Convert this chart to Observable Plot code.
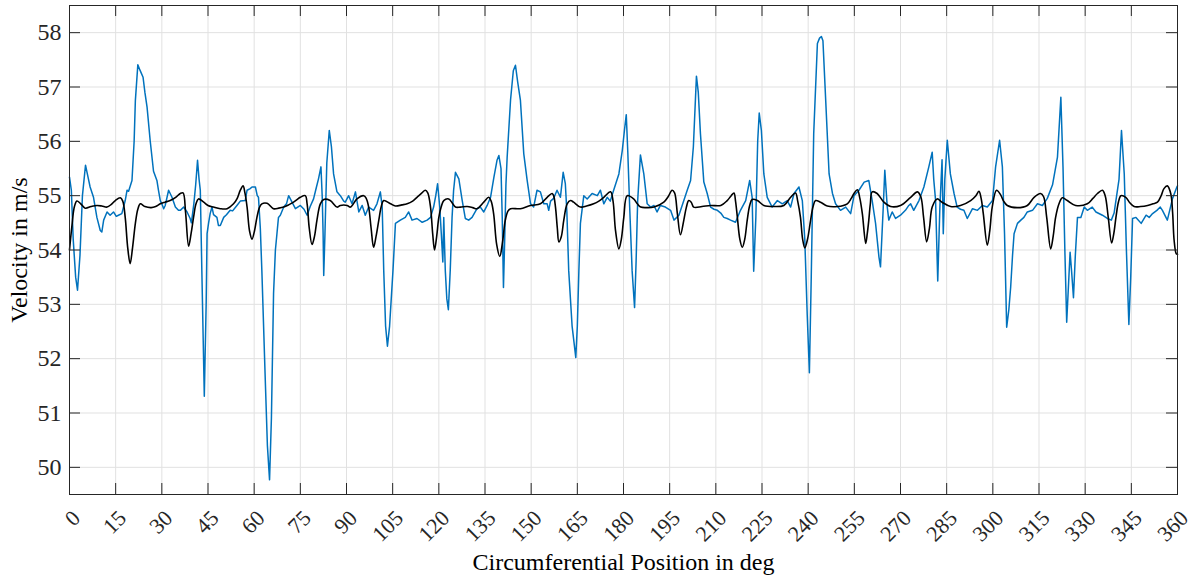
<!DOCTYPE html>
<html><head><meta charset="utf-8">
<script src="https://cdn.jsdelivr.net/npm/d3@7"></script>
<script src="https://cdn.jsdelivr.net/npm/@observablehq/plot@0.6"></script>
<style>html,body{margin:0;padding:0;background:#fff}</style>
</head><body><div id="chart"></div>
<script>
// ---- data ----
const xTicks = [0,15,30,45,60,75,90,105,120,135,150,165,180,195,210,225,240,255,270,285,300,315,330,345,360];
const yTicks = [50,51,52,53,54,55,56,57,58];
const xTitle = "Circumferential Position in deg";
const yTitle = "Velocity in m/s";

// measured velocity (blue)
const measPos = [0,0.6,1.2,2.0,2.6,3.4,4.2,5.2,5.8,6.7,7.8,8.9,10.0,10.5,11.1,12.2,13.2,14.3,15.2,15.9,17.0,18.1,18.7,19.2,20.3,21.0,21.4,22.2,22.9,23.9,24.5,25.2,26.2,27.3,28.4,28.9,29.5,30.0,30.6,31.1,32.2,33.3,34.4,35.4,36.0,37.1,38.2,39.2,39.6,40.4,41.0,41.6,42.1,42.5,43.0,43.8,44.4,44.7,45.2,45.7,46.3,46.8,47.9,48.4,49.0,50.1,51.0,52.2,53.0,54.4,55.5,57.1,57.7,58.7,59.3,60.4,61.0,61.4,62.0,62.5,63.5,64.3,65.0,65.6,66.3,66.9,67.4,67.9,68.5,69.6,70.5,71.2,72.3,73.4,74.4,75.0,76.2,77.2,78.2,79.3,80.2,80.9,81.7,82.1,82.4,82.6,83.0,83.6,84.4,85.1,85.8,86.9,88.0,89.1,89.6,90.7,91.8,92.9,94.0,95.1,96.1,97.2,98.8,99.9,101.0,101.6,102.1,102.7,103.3,104.0,105.1,105.9,107.5,109.1,110.2,111.3,112.9,114.6,116.2,117.3,118.3,119.0,119.6,120.3,120.8,121.3,121.6,122.1,122.6,123.1,123.7,124.3,124.8,125.4,126.5,127.6,128.6,129.7,130.8,132.4,133.5,134.6,135.7,136.8,137.9,138.9,139.5,140.2,140.6,141.0,141.4,141.8,142.2,143.3,144.2,144.9,145.6,146.5,147.6,148.7,149.8,150.8,151.9,153.0,154.1,155.2,155.7,156.3,157.3,158.4,159.5,160.4,161.1,161.6,162.2,163.3,164.5,165.0,165.5,166.0,167.1,168.2,169.8,171.5,172.5,173.6,174.7,175.7,176.8,178.5,179.6,180.3,180.9,181.4,182.0,182.8,183.6,184.1,184.6,185.5,186.6,187.7,188.8,189.9,190.9,192.0,193.6,195.3,196.4,198.0,199.6,200.7,201.8,202.7,203.7,204.3,205.0,206.1,207.2,208.3,209.4,210.5,211.6,212.6,213.7,214.8,216.4,218.0,219.7,221.0,221.8,222.3,223.0,223.6,224.1,224.8,225.6,226.7,228.3,230.0,231.6,233.2,234.3,235.4,237.0,238.1,238.9,239.7,240.4,241.0,241.8,243.0,243.7,244.3,244.8,245.7,246.8,247.9,248.9,250.5,252.2,253.8,254.9,256.5,258.2,259.7,260.8,261.9,263.0,263.5,264.4,264.9,265.7,266.2,267.3,268.4,270.0,271.6,272.7,273.3,274.3,276.0,277.6,279.2,280.3,280.8,281.4,282.1,282.8,283.5,283.9,284.4,285.2,286.2,287.4,288.4,289.5,290.6,291.7,293.4,295.0,296.6,298.2,299.9,300.9,302.2,303.1,303.8,304.5,305.2,305.8,306.4,306.9,308.0,309.1,310.1,311.2,312.9,314.5,316.1,317.7,319.4,321.0,322.1,322.8,323.4,324.0,325.1,325.6,326.2,326.8,327.5,328.6,329.7,330.7,332.3,333.5,335.6,337.2,338.5,339.4,341.0,341.8,342.7,343.4,344.2,344.8,345.4,346.5,348.2,349.8,350.8,351.9,353.3,354.4,355.1,356.7,358.4,359.8,360];
const measVel = [55.34,55.1,54.2,53.5,53.26,53.9,55.0,55.56,55.4,55.16,54.97,54.6,54.36,54.33,54.55,54.7,54.64,54.7,54.62,54.64,54.67,54.91,55.1,55.08,55.28,56.0,56.75,57.41,57.31,57.18,56.9,56.63,56.02,55.45,55.28,55.1,54.91,54.85,54.76,54.82,55.1,54.97,54.79,54.73,54.73,54.79,54.7,54.58,54.5,54.85,55.2,55.65,55.3,55.1,53.62,51.31,53.0,54.3,54.5,54.67,54.79,54.65,54.6,54.45,54.45,54.6,54.65,54.73,54.72,54.82,54.9,54.91,55.1,55.13,55.16,55.16,55.0,54.97,54.4,53.62,51.8,50.4,49.77,50.9,53.2,54.0,54.3,54.6,54.64,54.79,54.85,55.0,54.88,54.76,54.8,54.82,54.75,54.64,54.8,54.94,55.15,55.31,55.53,55.0,54.3,53.53,54.3,55.6,56.2,55.9,55.4,55.07,55.0,54.9,54.88,55.0,54.85,55.07,54.7,54.82,54.64,54.79,54.73,54.85,55.07,54.79,53.62,52.6,52.23,52.6,53.62,54.49,54.55,54.6,54.7,54.55,54.58,54.51,54.55,54.6,54.79,55.0,55.22,54.79,54.3,53.78,54.6,53.62,53.1,52.9,53.62,54.6,55.1,55.43,55.31,54.91,54.58,54.55,54.6,54.76,54.79,54.7,54.82,54.97,55.34,55.65,55.74,55.5,54.6,53.31,54.2,55.2,55.71,56.76,57.3,57.4,57.1,56.76,55.77,55.28,54.85,54.79,55.1,55.07,54.85,54.85,54.73,54.9,54.95,55.1,54.97,55.43,55.22,54.7,53.62,52.6,52.02,52.6,53.62,54.49,55.0,54.94,55.04,55.0,55.1,54.85,54.97,54.9,55.1,55.4,55.83,56.2,56.49,55.8,54.8,53.62,52.94,53.8,54.9,55.75,55.4,54.85,54.79,54.82,54.7,54.82,54.79,54.73,54.55,54.64,54.91,55.1,55.28,55.9,57.2,56.9,56.14,55.25,55.04,54.79,54.75,54.73,54.68,54.6,54.58,54.55,54.51,54.73,54.91,55.28,54.97,53.61,54.6,56.0,56.52,56.2,55.4,54.97,54.79,54.91,54.85,54.91,54.79,55.04,55.16,54.91,54.2,52.8,51.74,53.5,56.14,57.8,57.9,57.93,57.85,56.75,55.4,55.04,54.85,54.73,54.79,54.67,55.0,55.1,55.25,55.28,54.91,54.49,53.87,53.69,54.79,55.47,54.79,54.55,54.7,54.58,54.64,54.73,54.82,54.85,54.73,54.91,55.16,55.53,55.8,55.3,54.91,53.43,54.8,55.66,54.3,55.3,56.02,55.4,55.04,54.79,54.75,54.73,54.58,54.76,54.73,54.82,54.79,54.91,55.53,56.02,55.53,54.3,52.58,52.9,53.32,53.9,54.3,54.49,54.55,54.6,54.7,54.73,54.85,54.82,54.95,55.2,55.71,56.81,55.53,54.0,52.67,53.96,53.6,53.12,53.9,54.6,54.6,54.79,54.73,54.79,54.7,54.64,54.58,54.55,54.68,55.3,56.2,55.4,54.0,52.63,53.5,54.58,54.6,54.49,54.64,54.6,54.67,54.73,54.79,54.73,54.55,54.95,55.16,55.18];

// simulated velocity (black)
const simPos = [0,0.8,1.6,2.4,3.5,5.1,7.0,8.9,10.5,12.2,13.6,14.9,16.5,17.3,18.1,18.9,19.7,20.5,21.4,22.2,23.0,24.5,26.5,28.0,29.5,31.0,32.7,34.5,36.0,36.9,37.7,38.7,39.5,40.3,41.1,41.9,43.6,45.0,46.8,49.0,51.2,53.3,54.5,55.5,56.4,57.0,57.7,58.5,59.3,60.1,60.9,61.7,62.5,64.2,66.3,68.0,69.6,71.2,72.8,74.0,75.0,76.6,77.2,77.9,78.8,79.6,80.4,81.5,82.6,84.7,86.9,88.0,90.2,91.3,93.4,95.6,96.4,97.2,98.0,98.8,99.6,100.5,101.3,102.1,104.3,105.9,108.0,109.7,111.5,112.9,114.5,115.6,116.4,117.3,118.0,118.6,119.3,120.0,120.8,121.6,123.2,124.3,125.4,127.0,129.2,131.0,132.4,134.6,136.2,137.0,137.8,138.8,139.8,140.7,141.6,142.5,143.3,146.5,149.8,153.0,155.2,156.8,157.3,157.9,158.5,159.0,159.8,160.6,161.7,162.8,163.8,166.0,168.0,170.3,172.0,173.6,175.8,176.6,177.4,178.5,179.3,180.1,181.2,183.3,184.5,185.6,187.5,189.9,193.1,194.5,195.8,196.6,197.5,198.5,199.6,200.4,201.2,202.0,202.8,205.5,208.3,211.6,213.7,215.0,215.9,216.4,217.0,217.8,218.6,219.4,220.2,221.0,221.8,223.5,225.6,228.9,232.1,234.3,235.9,236.6,237.5,238.2,238.9,239.8,240.8,241.6,242.4,244.0,246.2,249.5,252.7,254.0,254.9,256.0,256.8,257.6,258.7,259.2,259.7,260.2,260.8,262.4,264.6,266.8,270.0,273.3,275.5,276.6,277.5,278.5,279.4,280.3,281.9,283.5,286.3,289.5,292.8,294.5,295.5,296.2,296.9,298.2,299.0,299.8,301.2,302.5,303.5,304.7,307.9,311.2,313.4,315.5,316.5,317.5,318.8,319.6,320.4,321.5,322.6,324.2,326.9,330.7,332.5,334.0,335.6,336.5,337.5,338.6,339.3,340.0,340.8,341.6,343.2,344.5,345.9,348.0,350.3,352.0,353.5,354.7,355.6,356.7,357.8,358.4,358.9,359.6,360];
const simVel = [54.0,54.45,54.8,54.9,54.86,54.77,54.8,54.82,54.81,54.79,54.84,54.91,54.96,54.9,54.6,54.05,53.75,54.05,54.49,54.75,54.85,54.8,54.78,54.8,54.85,54.88,54.91,54.97,55.04,55.05,54.7,54.07,54.3,54.6,54.85,54.94,54.88,54.82,54.79,54.76,54.76,54.85,54.95,55.1,55.18,55.05,54.79,54.35,54.2,54.35,54.6,54.78,54.85,54.86,54.76,54.77,54.79,54.83,54.88,54.93,54.97,55.0,54.85,54.4,54.1,54.25,54.55,54.85,54.93,54.91,54.79,54.82,54.82,54.79,54.94,55.0,54.95,54.79,54.4,54.05,54.25,54.55,54.8,54.91,54.85,54.81,54.83,54.85,54.9,54.97,55.05,55.1,55.05,54.79,54.3,54.0,54.25,54.6,54.8,54.91,54.94,54.87,54.79,54.79,54.8,54.78,54.76,54.88,54.97,54.9,54.67,54.1,53.88,54.15,54.55,54.72,54.76,54.76,54.82,54.85,54.97,55.04,55.0,54.79,54.4,54.15,54.25,54.55,54.85,54.91,54.88,54.79,54.81,54.85,54.9,54.97,55.07,54.9,54.36,54.02,54.2,54.6,55.0,54.94,54.85,54.79,54.78,54.79,54.88,54.98,55.1,55.05,54.67,54.28,54.55,54.78,54.91,54.88,54.79,54.8,54.82,54.82,54.91,55.0,55.05,54.9,54.6,54.2,54.05,54.2,54.55,54.82,54.93,54.91,54.82,54.8,54.82,54.97,55.05,54.9,54.6,54.2,54.04,54.2,54.55,54.8,54.91,54.88,54.81,54.8,54.85,54.95,55.04,55.11,54.95,54.67,54.12,54.3,54.55,54.85,55.07,55.04,54.88,54.8,54.82,54.97,55.07,54.98,54.6,54.15,54.4,54.79,54.94,54.88,54.8,54.82,54.91,55.0,55.08,54.95,54.67,54.09,54.35,54.79,55.1,55.02,54.9,54.82,54.78,54.82,54.97,55.04,54.98,54.6,54.02,54.25,54.6,54.85,54.96,54.91,54.82,54.85,54.95,55.04,55.1,55.0,54.6,54.13,54.3,54.6,54.88,55.0,54.97,54.87,54.8,54.8,54.82,54.85,54.88,55.0,55.13,55.18,55.04,54.7,54.18,53.93,53.92];

const measured = measPos.map((p, i) => ({pos: p, vel: measVel[i]}));
const simulated = simPos.map((p, i) => ({pos: p, vel: simVel[i]}));

// ---- layout ----
const W = 1193, H = 577;
const mT = 5, mR = 16, mB = 83, mL = 69;
const innerW = W - mL - mR, innerH = H - mT - mB;
const tickLen = 11;
const axisColor = "#262626";
const gridColor = "#e1e1e1";
const font = "'Liberation Serif', 'Times New Roman', serif";
const yTickSize = 24, xTickSize = 22, titleSize = 24;

const chart = Plot.plot({
  width: W, height: H,
  marginTop: mT, marginRight: mR, marginBottom: mB, marginLeft: mL,
  style: {fontFamily: font, fontSize: "22px", background: "#fff", color: axisColor},
  x: {domain: [0, 360], axis: null},
  y: {domain: [49.5, 58.5], axis: null},
  marks: [
    Plot.ruleX(xTicks, {x: d => d, stroke: gridColor, strokeWidth: 1}),
    Plot.ruleY(yTicks, {y: d => d, stroke: gridColor, strokeWidth: 1}),
    Plot.line(measured, {x: "pos", y: "vel", stroke: "#0072BD", strokeWidth: 1.5}),
    Plot.line(simulated, {x: "pos", y: "vel", stroke: "#000000", strokeWidth: 1.6, curve: "catmull-rom"}),
    Plot.frame({stroke: axisColor, strokeWidth: 1}),
    // inward ticks, bottom & top
    Plot.ruleX(xTicks, {x: d => d, insetTop: innerH - tickLen, stroke: axisColor, strokeWidth: 1}),
    Plot.ruleX(xTicks, {x: d => d, insetBottom: innerH - tickLen, stroke: axisColor, strokeWidth: 1}),
    // inward ticks, left & right
    Plot.ruleY(yTicks, {y: d => d, insetRight: innerW - tickLen, stroke: axisColor, strokeWidth: 1}),
    Plot.ruleY(yTicks, {y: d => d, insetLeft: innerW - tickLen, stroke: axisColor, strokeWidth: 1}),
    // tick labels
    Plot.text(yTicks, {y: d => d, text: d => String(d), frameAnchor: "left", dx: -8, textAnchor: "end", lineAnchor: "middle", fontSize: yTickSize, fill: axisColor}),
    Plot.text(xTicks, {x: d => d, text: d => String(d), frameAnchor: "bottom", dx: 7, dy: 20, rotate: -45, textAnchor: "end", lineAnchor: "middle", fontSize: xTickSize, fill: axisColor}),
    // titles
    Plot.text([xTitle], {text: d => d, frameAnchor: "bottom", dy: 68, textAnchor: "middle", lineAnchor: "middle", fontSize: titleSize, fill: "#000"}),
    Plot.text([yTitle], {text: d => d, frameAnchor: "left", dx: -50, rotate: -90, textAnchor: "middle", lineAnchor: "middle", fontSize: titleSize, fill: "#000"})
  ]
});
document.getElementById("chart").appendChild(chart);
</script></body></html>
